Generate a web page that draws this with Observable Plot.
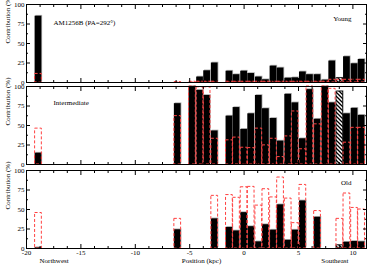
<!DOCTYPE html>
<html><head><meta charset="utf-8">
<script src="https://cdn.jsdelivr.net/npm/d3@7"></script>
<script src="https://cdn.jsdelivr.net/npm/@observablehq/plot@0.6"></script>
<style>
html,body{margin:0;padding:0;background:#fff;}
#chart{position:relative;width:374px;height:268px;overflow:hidden;}
</style></head><body>
<svg width="0" height="0" style="position:absolute">
  <defs>
    <pattern id="hatch" patternUnits="userSpaceOnUse" width="4" height="4">
      <rect width="4" height="4" fill="white"/>
      <path d="M-1,-1 L5,5 M-1,3 L1,5 M3,-1 L5,1" stroke="black" stroke-width="1.3"/>
    </pattern>
  </defs>
</svg>
<div id="chart"></div>
<script>
// Bar positions (kpc)
const positions = [-18.9, -6.1, -4.75, -4.05, -3.4, -2.7, -1.35, -0.7, 0, 0.65, 1.35, 2.0, 2.7, 3.35, 4.05, 4.7, 5.4, 6.05, 6.75, 7.45, 8.1, 8.8, 9.45, 10.15, 10.8];
const hatchedPositions = [8.8];

// Young population (%): black bars and red dashed bars
const young    = [85, 0, 0, 7, 15, 25, 14.5, 10, 14.5, 11.5, 7, 3.5, 21, 18.5, 5.5, 6, 13.5, 10, 10, 3, 27.5, 5.5, 33, 24, 29.5];
const youngRed = [11, 0.5, 1, 1, 1, 1, 1, 1, 1, 1, 1, 1, 1, 1, 1, 1, 1, 1, 1, 1, 3.5, 3.5, 3.5, 3.5, 3.5];

// Intermediate population (%)
const inter    = [14.5, 78, 100, 95, 88.5, 43, 62, 73, 45, 65, 88.5, 71.5, 59, 30, 90, 79, 33, 96, 58, 100, 79, 93.5, 65, 72, 63];
const interRed = [46, 62, 100, 99, 99, 33, 31, 34.5, 21.5, 21, 46, 24.5, 33, 9.5, 36, 68, 19.5, 100, 51.5, 100, 97, 0, 28, 47, 47];

// Old population (%)
const old      = [1, 24, 0, 0, 0, 38, 27, 22.5, 46, 28, 8.5, 30.5, 23.5, 56, 10.5, 23.5, 61, 0, 40, 0, 0, 4, 8, 9, 8.5];
const oldRed   = [45.5, 38, 0, 0, 0, 67.5, 68.5, 65, 78.5, 79, 55, 76, 65.5, 91, 64, 32.5, 81.5, 0, 48, 0, 0, 38, 70.5, 52, 50];

// Axis ticks and labels
const xTicks = [-20, -15, -10, -5, 0, 5, 10];
const xTickLabels = ["-20", "-15", "-10", "-5", "0", "5", "10"];
const xMinorTicks = [-18.75, -17.5, -16.25, -13.75, -12.5, -11.25, -8.75, -7.5, -6.25, -3.75, -2.5, -1.25, 1.25, 2.5, 3.75, 6.25, 7.5, 8.75, 11.25];
const yTicks = [0, 25, 50, 75, 100];
const yTickLabels = ["0", "25", "50", "75", "100"];
const yMinorTicks = [12.5, 37.5, 62.5, 87.5];

const yLabel = "Contribution (%)";
const xLabel = "Position (kpc)";
const leftDir = "Northwest";
const rightDir = "Southeast";
const objectTitle = "AM1256B (PA=292°)";

const FONT = "Liberation Serif, Times New Roman, serif";
const RED = "#ff4040";
const hw = 0.31;

function panel({vals, reds, top, height, mt, mb, name, nameRight, nameDy, extra = [], bottom = false}) {
  const rows = positions.map((x, i) => ({x, v: vals[i], r: reds[i], h: hatchedPositions.includes(x)}));
  const black = rows.filter(d => d.v > 0 && !d.h);
  const hatch = rows.filter(d => d.v > 0 && d.h);
  const red = rows.filter(d => d.r > 0);
  const marks = [
    Plot.rectY(rows.filter(d => d.v > 0), {x1: d => d.x - hw, x2: d => d.x + hw, y1: 0, y2: "v", fill: "#b0b0b0", dx: 0.8, dy: -0.8}),
    Plot.rectY(black, {x1: d => d.x - hw, x2: d => d.x + hw, y1: 0, y2: "v", fill: "black"}),
    Plot.rectY(hatch, {x1: d => d.x - hw, x2: d => d.x + hw, y1: 0, y2: "v", fill: "url(#hatch)", stroke: "black", strokeWidth: 0.8}),
    Plot.rectY(red, {x1: d => d.x - hw, x2: d => d.x + hw, y1: 0, y2: "r", fill: "none", stroke: RED, strokeWidth: 1, strokeDasharray: "3,2"}),
    Plot.frame({stroke: "black", strokeWidth: 1}),
    Plot.axisX({anchor: "bottom", ticks: xTicks, tickSize: -4, fill: null, label: null}),
    Plot.axisX({anchor: "bottom", ticks: xMinorTicks, tickSize: -2, fill: null, label: null}),
    Plot.axisX({anchor: "top", ticks: xTicks, tickSize: -4, fill: null, label: null}),
    Plot.axisX({anchor: "top", ticks: xMinorTicks, tickSize: -2, fill: null, label: null}),
    Plot.axisY({anchor: "left", ticks: yTicks, tickSize: -4, fill: null, label: null}),
    Plot.axisY({anchor: "left", ticks: yMinorTicks, tickSize: -2, fill: null, label: null}),
    Plot.axisY({anchor: "right", ticks: yTicks, tickSize: -4, fill: null, label: null}),
    Plot.axisY({anchor: "right", ticks: yMinorTicks, tickSize: -2, fill: null, label: null}),
    Plot.axisY({anchor: "left", ticks: yTicks, tickSize: 0, tickPadding: 2, tickFormat: d => yTickLabels[yTicks.indexOf(d)], label: null, fontSize: 7}),
    Plot.text([yLabel], {frameAnchor: "left", dx: -18.5, rotate: -90, fontSize: 7, fill: "black"}),
    Plot.text([name], nameRight
      ? {frameAnchor: "top-right", textAnchor: "end", dx: -15, dy: nameDy, fontSize: 7, fill: "black"}
      : {frameAnchor: "top-left", textAnchor: "start", dx: 27, dy: nameDy, fontSize: 7, fill: "black"}),
    ...extra
  ];
  if (bottom) {
    marks.push(
      Plot.axisX({anchor: "bottom", ticks: xTicks, tickSize: 0, tickPadding: 2, tickFormat: d => xTickLabels[xTicks.indexOf(d)], label: null, fontSize: 7}),
      Plot.text([leftDir], {frameAnchor: "bottom-left", dx: 13, dy: 14, fontSize: 7, fill: "black"}),
      Plot.text([xLabel], {frameAnchor: "bottom", dx: 5, dy: 14, fontSize: 7, fill: "black"}),
      Plot.text([rightDir], {frameAnchor: "bottom-right", dx: -18, dy: 14, fontSize: 7, fill: "black"})
    );
  }
  const svg = Plot.plot({
    width: 374, height,
    marginLeft: 26, marginRight: 8, marginTop: mt, marginBottom: mb,
    x: {domain: [-20, 11.25]},
    y: {domain: [0, 100]},
    style: {background: "transparent", overflow: "visible", fontFamily: FONT, fontSize: "7px", color: "black"},
    marks
  });
  svg.style.position = "absolute";
  svg.style.left = "0px";
  svg.style.top = top + "px";
  svg.style.overflow = "visible";
  document.getElementById("chart").appendChild(svg);
}

panel({vals: young, reds: youngRed, top: 0, height: 84, mt: 4, mb: 2, name: "Young", nameRight: true, nameDy: 11.5,
  extra: [Plot.text([objectTitle], {frameAnchor: "top-left", textAnchor: "start", dx: 27, dy: 16, fontSize: 7, fill: "black"})]});
panel({vals: inter, reds: interRed, top: 84, height: 82, mt: 2, mb: 2, name: "Intermediate", nameRight: false, nameDy: 14});
panel({vals: old, reds: oldRed, top: 166, height: 102, mt: 4, mb: 20, name: "Old", nameRight: true, nameDy: 10, bottom: true});
</script>
</body></html>
